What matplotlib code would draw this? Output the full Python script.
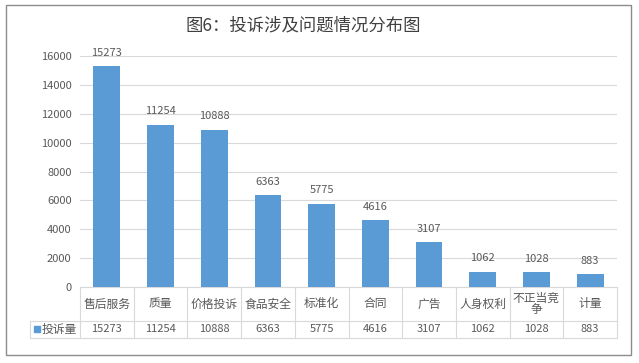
import matplotlib.pyplot as plt
from matplotlib.patches import Rectangle
from matplotlib.lines import Line2D

plt.rcParams['font.family'] = ['Noto Sans CJK SC', 'DejaVu Sans']

categories = ['售后服务', '质量', '价格投诉', '食品安全', '标准化', '合同', '广告', '人身权利', '不正当竞\n争', '计量']
counts = [15273, 11254, 10888, 6363, 5775, 4616, 3107, 1062, 1028, 883]
series_name = '投诉量'
title = '图6：投诉涉及问题情况分布图'

W, H = 639, 363
bar_color = '#5B9BD5'
grid_color = '#D9D9D9'
text_color = '#595959'

fig = plt.figure(figsize=(W / 100, H / 100), dpi=100)

# plot area in pixels: x 80..617, y 56..287
left, right, top, bottom = 80, 617, 56, 287
ax = fig.add_axes([left / W, 1 - bottom / H, (right - left) / W, (bottom - top) / H])

x = list(range(len(categories)))
ax.bar(x, counts, width=0.5, color=bar_color, zorder=3)
for xi, v in zip(x, counts):
    ax.annotate(str(v), (xi, v), xytext=(0, 6), textcoords='offset points',
                ha='center', va='bottom', fontsize=8, color=text_color)

ax.set_xlim(-0.5, len(categories) - 0.5)
ax.set_ylim(0, 16000)
ax.set_yticks(range(0, 16001, 2000))
ax.tick_params(axis='y', length=0, labelsize=8, labelcolor=text_color, pad=6)
ax.set_xticks([])
ax.grid(axis='y', color=grid_color, linewidth=0.8, zorder=0)
for s in ['top', 'right', 'left']:
    ax.spines[s].set_visible(False)
ax.spines['bottom'].set_color(grid_color)

# data table below the axis
row1 = (321 - bottom) / (bottom - top)
row2 = (338 - bottom) / (bottom - top)
trans = ax.get_xaxis_transform()
legend_left = (30 - left) / (right - left) * len(categories) - 0.5

lk = dict(color=grid_color, linewidth=0.8, transform=trans, clip_on=False)
ax.add_line(Line2D([legend_left, len(categories) - 0.5], [-row1, -row1], **lk))
ax.add_line(Line2D([legend_left, len(categories) - 0.5], [-row2, -row2], **lk))
ax.add_line(Line2D([legend_left, legend_left], [-row1, -row2], **lk))
for i in range(len(categories) + 1):
    ax.add_line(Line2D([i - 0.5, i - 0.5], [0, -row2], **lk))

for xi, c, v in zip(x, categories, counts):
    if '\n' in c:
        ax.text(xi, -row1 / 2, c, transform=trans, ha='center', va='center',
                fontsize=8.5, color=text_color, linespacing=0.85)
    else:
        ax.text(xi, -row1 / 2, c, transform=trans, ha='center', va='center',
                fontsize=8.5, color=text_color)
    ax.text(xi, -(row1 + row2) / 2, str(v), transform=trans, ha='center', va='center',
            fontsize=8, color=text_color)

ax.text(-0.5 - 0.06, -(row1 + row2) / 2, series_name, transform=trans, ha='right', va='center',
        fontsize=8.5, color=text_color)
ax.add_patch(Rectangle((legend_left + 0.07, -(row1 + row2) / 2 - 0.011), 0.11, 0.024,
                       transform=trans, color=bar_color, clip_on=False))

fig.text(303 / W, 1 - 25 / H, title, ha='center', va='center', fontsize=12.5, color='#404040')

# outer chart border
fig.add_artist(Rectangle((6 / W, 1 - 355 / H), 625 / W, 350 / H, transform=fig.transFigure,
                         fill=False, edgecolor='#8C8C8C', linewidth=1))

fig.savefig('out.png', dpi=100)
